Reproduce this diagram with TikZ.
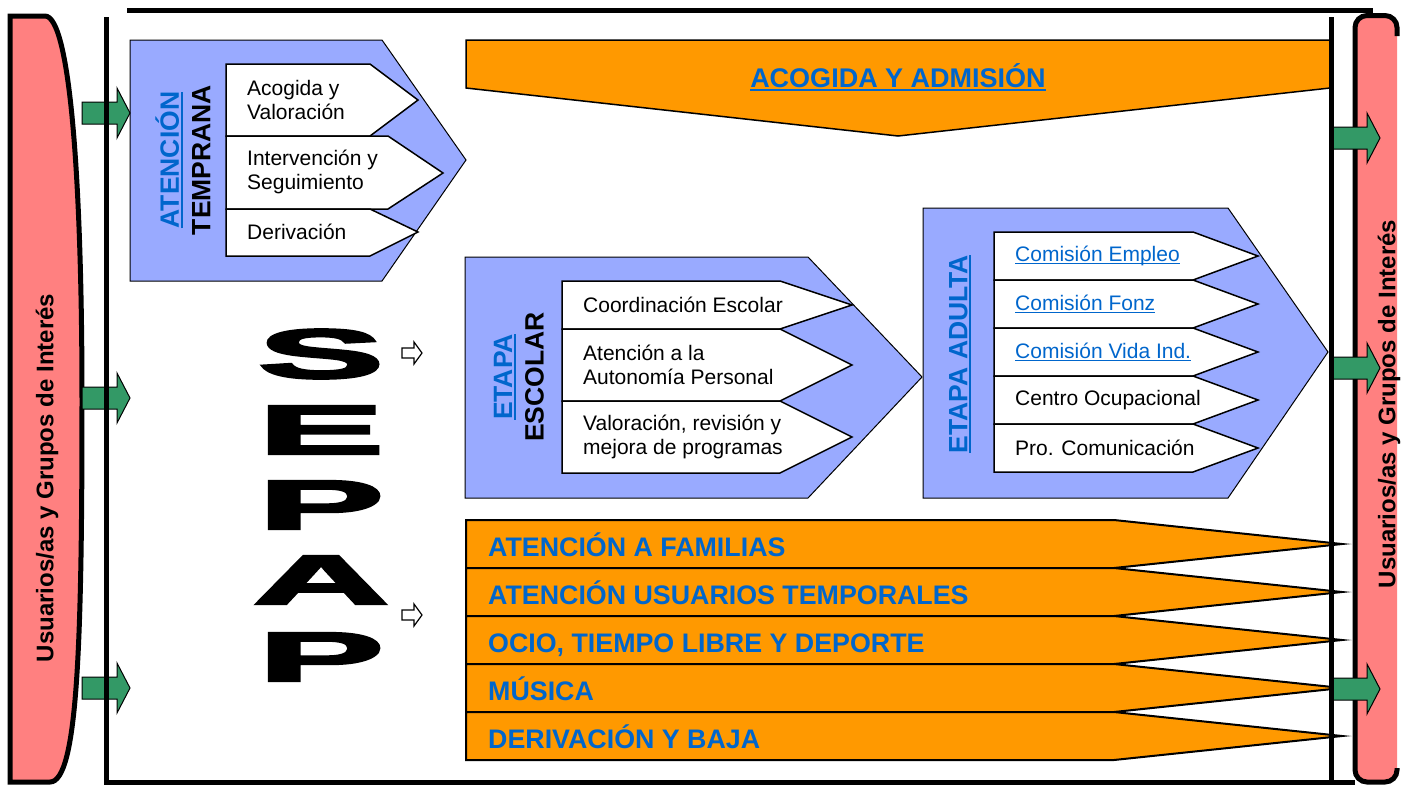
\documentclass[tikz,border=0pt]{standalone}
\usepackage{fontspec}
\setmainfont{Liberation Sans}
\newfontfamily\sepapfont{Liberation Sans}[BoldFeatures={FakeBold=3}]
\definecolor{tblue}{RGB}{153,170,255}
\definecolor{torange}{RGB}{255,153,0}
\definecolor{tpink}{RGB}{255,128,128}
\definecolor{tgreen}{RGB}{51,153,102}
\definecolor{tlink}{RGB}{0,102,204}
\newsavebox\ulbox
\newcommand\myul[1]{\sbox\ulbox{#1}\rlap{\rule[-0.14em]{\wd\ulbox}{0.08em}}\usebox\ulbox}
\tikzset{
  framel/.style={line width=5pt},
  bluebox/.style={draw=black, fill=tblue, line width=1pt},
  whitebox/.style={draw=black, fill=white, line width=1.5pt},
  orangebox/.style={draw=black, fill=torange, line width=2pt},
  garrow/.style={draw=black, fill=tgreen, line width=1pt},
  harrow/.style={draw=black, fill=white, line width=1.2pt},
  itemtxt/.style={anchor=west, align=left, inner sep=0, font=\fontsize{21}{24.5}\selectfont},
  linktxt/.style={itemtxt, text=tlink},
  bartxt/.style={anchor=base west, inner sep=0, text=tlink, font=\fontsize{26.8}{30}\selectfont\bfseries},
  vtxt/.style={rotate=90, align=center, inner sep=0, font=\fontsize{26.5}{31.5}\selectfont\bfseries},
  sidetxt/.style={rotate=90, inner sep=0, font=\fontsize{24}{28}\selectfont\bfseries},
  sepap/.style={inner sep=0, xscale=2.7, font=\fontsize{70}{70}\sepapfont\bfseries},
  garr/.pic={\draw[garrow] (0,-11) -- (35,-11) -- (35,-25) -- (48,0) -- (35,25) -- (35,11) -- (0,11) -- cycle;},
  harr/.pic={\draw[harrow] (0,-5) -- (12,-5) -- (12,-11) -- (20,0) -- (12,11) -- (12,5) -- (0,5) -- cycle;}
}
\begin{document}
\begin{tikzpicture}[x=1pt,y=-1pt]
\useasboundingbox (0,0) rectangle (1408,785);
\fill[white] (0,0) rectangle (1408,785);
% left pink shape
\draw[line width=5pt, fill=tpink] (10,16) -- (45,16) .. controls (70,16) and (82,180) .. (82,400)
   .. controls (82,640) and (78,782) .. (50,782) -- (10,782) -- cycle;
% right pink shape
\fill[tpink, rounded corners=12pt] (1355,15.5) -- (1397,15.5) -- (1397,782) -- (1355,782) -- cycle;
\draw[line width=5pt, rounded corners=12pt] (1397,36) -- (1397,15.5) -- (1355,15.5) -- (1355,782) -- (1397,782) -- (1397,768);
% orange heading
\draw[orangebox, line width=1.5pt] (466,40) -- (1330,40) -- (1330,88) -- (898,136) -- (466,88) -- cycle;
\node[anchor=base, inner sep=0, text=tlink, font=\fontsize{27}{30}\selectfont\bfseries] (acog) at (898,87) {\myul{ACOGIDA Y ADMISIÓN}};
% Atencion temprana
\draw[bluebox] (130,40) -- (382,40) -- (466,160) -- (382,281) -- (130,281) -- cycle;
\draw[whitebox] (226,64) -- (370,64) -- (418,100) -- (370,136) -- (226,136) -- cycle;
\draw[whitebox] (226,136) -- (388,136) -- (443,173) -- (388,209) -- (226,209) -- cycle;
\draw[whitebox] (226,209) -- (370,209) -- (418,232) -- (370,256) -- (226,256) -- cycle;
\node[vtxt] (at) at (183,160) {\textcolor{tlink}{\myul{ATENCIÓN}}\\TEMPRANA};
\node[itemtxt] (a1) at (247,100) {Acogida y\\Valoración};
\node[itemtxt] (a2) at (247,172) {Intervención y\\Seguimiento};
\node[itemtxt] (a3) at (247,232) {Derivación};
% Etapa escolar
\draw[bluebox] (465,257) -- (808,257) -- (922,377) -- (808,498) -- (465,498) -- cycle;
\draw[whitebox] (562,281) -- (780,281) -- (852,305) -- (780,329) -- (562,329) -- cycle;
\draw[whitebox] (562,329) -- (780,329) -- (852,365) -- (780,401) -- (562,401) -- cycle;
\draw[whitebox] (562,401) -- (780,401) -- (852,437) -- (780,473) -- (562,473) -- cycle;
\node[vtxt] (es) at (519,377) {\textcolor{tlink}{\myul{ETAPA}}\\ESCOLAR};
\node[itemtxt] (e1) at (583,305) {Coordinación Escolar};
\node[itemtxt] (e2) at (583,365) {Atención a la\\Autonomía Personal};
\node[itemtxt] (e3) at (583,437) {Valoración, revisión y\\mejora de programas};
% Etapa adulta
\draw[bluebox] (923,208) -- (1228,208) -- (1328,352) -- (1228,498) -- (923,498) -- cycle;
\foreach \i in {0,...,4}{
  \draw[whitebox] (994,232+48*\i) -- (1193,232+48*\i) -- (1258,256+48*\i) -- (1193,280+48*\i) -- (994,280+48*\i) -- cycle;
}
\node[vtxt] (ad) at (960,354) {\textcolor{tlink}{\myul{ETAPA ADULTA}}};
\node[linktxt] (d1) at (1015,256) {\myul{Comisión Empleo}};
\node[linktxt] (d2) at (1015,304) {\myul{Comisión Fonz}};
\node[linktxt] (d3) at (1015,352) {\myul{Comisión Vida Ind.}};
\node[itemtxt] (d4) at (1015,400) {Centro Ocupacional};
\node[itemtxt] (d5) at (1015,448) {Pro. Comunicación};
% orange bars
\foreach \i in {0,...,4}{
  \draw[orangebox] (466,520+48*\i) -- (1114,520+48*\i) -- (1342,544+48*\i) -- (1114,568+48*\i) -- (466,568+48*\i) -- cycle;
}
\node[bartxt] (b1) at (488,556) {ATENCIÓN A FAMILIAS};
\node[bartxt] (b2) at (488,604) {ATENCIÓN USUARIOS TEMPORALES};
\node[bartxt] (b3) at (488,652) {OCIO, TIEMPO LIBRE Y DEPORTE};
\node[bartxt] (b4) at (488,700) {MÚSICA};
\node[bartxt] (b5) at (488,748) {DERIVACIÓN Y BAJA};
% SEPAP
\node[sepap] (s1) at (321,354) {S};
\node[sepap] (s2) at (321,430) {E};
\node[sepap] (s3) at (321,505) {P};
\node[sepap] (s4) at (321,580) {A};
\node[sepap] (s5) at (321,657) {P};
\pic at (402,353) {harr};
\pic at (402,615) {harr};
% green arrows
\pic at (82,113) {garr};
\pic at (82,398) {garr};
\pic at (82,688) {garr};
\pic at (1332,138) {garr};
\pic at (1332,368) {garr};
\pic at (1332,689) {garr};
% frame lines
\draw[framel] (127,10) -- (1373,10);
\draw[framel] (106,17) -- (106,782) -- (1355,782);
\draw[framel] (1331,17) -- (1331,785);
% side texts
\node[sidetxt] (lt) at (47,478) {Usuarios/as y Grupos de Interés};
\node[sidetxt] (rt) at (1389,404) {Usuarios/as y Grupos de Interés};
\end{tikzpicture}
\end{document}
